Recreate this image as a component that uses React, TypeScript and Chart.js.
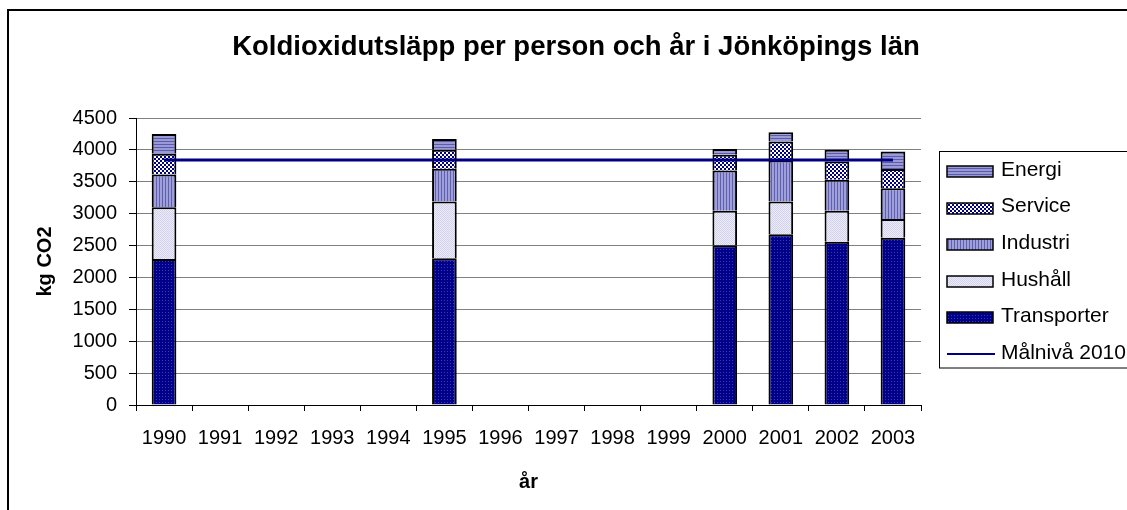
import React, { useEffect, useRef } from "react";
import { Chart, registerables } from "chart.js";

Chart.register(...registerables);

const TITLE = "Koldioxidutsläpp per person och år i Jönköpings län";
const categories = ["1990", "1991", "1992", "1993", "1994", "1995", "1996", "1997", "1998", "1999", "2000", "2001", "2002", "2003"];
const transporter = [2290, null, null, null, null, 2300, null, null, null, null, 2505, 2676, 2560, 2622];
const hushall = [812, null, null, null, null, 890, null, null, null, null, 540, 513, 487, 295];
const industri = [514, null, null, null, null, 515, null, null, null, null, 630, 645, 483, 483];
const service = [325, null, null, null, null, 299, null, null, null, null, 248, 299, 289, 299];
const energi = [310, null, null, null, null, 168, null, null, null, null, 90, 142, 184, 277];
const malniva = [3840, 3840, 3840, 3840, 3840, 3840, 3840, 3840, 3840, 3840, 3840, 3840, 3840, 3840];
const yTicksMax = 4500;
const yTicksStep = 500;

const FONT = '"Liberation Sans", Arial, sans-serif';

function makePattern(ctx: CanvasRenderingContext2D, w: number, h: number, draw: (g: CanvasRenderingContext2D) => void) {
  const c = document.createElement("canvas");
  c.width = w;
  c.height = h;
  const g = c.getContext("2d")!;
  draw(g);
  return ctx.createPattern(c, "repeat")!;
}

export default function App() {
  const ref = useRef<HTMLCanvasElement>(null);
  useEffect(() => {
    document.body.style.margin = "0";
    const canvas = ref.current!;
    const ctx = canvas.getContext("2d")!;

    const pTrans = makePattern(ctx, 3, 3, (g) => {
      g.fillStyle = "#00008a";
      g.fillRect(0, 0, 3, 3);
      g.fillStyle = "#3a3aa8";
      g.fillRect(0, 0, 1, 1);
    });
    const pHush = makePattern(ctx, 2, 2, (g) => {
      g.fillStyle = "#ececf8";
      g.fillRect(0, 0, 2, 2);
      g.fillStyle = "#d2d2ec";
      g.fillRect(0, 0, 1, 1);
      g.fillRect(1, 1, 1, 1);
    });
    const pInd = makePattern(ctx, 3, 3, (g) => {
      g.fillStyle = "#a0a0d8";
      g.fillRect(0, 0, 3, 3);
      g.fillStyle = "#5e5eb4";
      g.fillRect(0, 0, 1, 3);
    });
    const pServ = makePattern(ctx, 4, 4, (g) => {
      g.fillStyle = "#ffffff";
      g.fillRect(0, 0, 4, 4);
      g.fillStyle = "#000080";
      g.fillRect(0, 0, 2, 2);
      g.fillRect(2, 2, 2, 2);
    });
    const pEn = makePattern(ctx, 3, 3, (g) => {
      g.fillStyle = "#9a9ad4";
      g.fillRect(0, 0, 3, 3);
      g.fillStyle = "#5a5ab0";
      g.fillRect(0, 0, 3, 1);
    });

    const barCommon = {
      type: "bar" as const,
      stack: "bars",
      borderColor: "#000000",
      borderWidth: 2,
      borderSkipped: "start" as const,
      barPercentage: 0.44,
      categoryPercentage: 1,
      order: 1,
    };

    const legendOrder = [4, 3, 2, 1, 0, 5];

    const decor = {
      id: "decor",
      afterDraw(chart: any) {
        const c = chart.ctx as CanvasRenderingContext2D;
        c.save();
        // outer frame
        c.strokeStyle = "#000";
        c.lineWidth = 2;
        c.beginPath();
        c.moveTo(8, 530);
        c.lineTo(8, 10);
        c.lineTo(1140, 10);
        c.stroke();
        // title
        c.fillStyle = "#000";
        c.font = `bold 27.5px ${FONT}`;
        c.textAlign = "center";
        c.textBaseline = "middle";
        c.fillText(TITLE, 576, 47);
        // legend box
        c.lineWidth = 1;
        c.strokeStyle = "#000";
        c.strokeRect(939.5, 151.5, 300, 216.5);
        c.font = `21px ${FONT}`;
        c.textAlign = "left";
        const ds = chart.data.datasets;
        legendOrder.forEach((idx, i) => {
          const d = ds[idx];
          const cy = 170 + i * 36.6;
          if (d.type === "line") {
            c.strokeStyle = d.borderColor;
            c.lineWidth = 2;
            c.beginPath();
            c.moveTo(947, Math.round(cy) + 1);
            c.lineTo(995, Math.round(cy) + 1);
            c.stroke();
          } else {
            c.fillStyle = d.backgroundColor;
            const top = Math.round(cy) - 4;
            c.fillRect(947, top, 46, 11);
            c.strokeStyle = "#000";
            c.lineWidth = 1.5;
            c.strokeRect(947, top, 46, 11);
          }
          c.fillStyle = "#000";
          c.fillText(d.label, 1001, cy);
        });
        c.restore();
      },
    };

    const chart = new Chart(canvas, {
      type: "bar",
      data: {
        labels: categories,
        datasets: [
          { ...barCommon, label: "Transporter", data: transporter, backgroundColor: pTrans },
          { ...barCommon, label: "Hushåll", data: hushall, backgroundColor: pHush },
          { ...barCommon, label: "Industri", data: industri, backgroundColor: pInd },
          { ...barCommon, label: "Service", data: service, backgroundColor: pServ },
          { ...barCommon, label: "Energi", data: energi, backgroundColor: pEn },
          {
            type: "line",
            label: "Målnivå 2010",
            data: malniva,
            stack: "line",
            borderColor: "#000080",
            backgroundColor: "#000080",
            borderWidth: 3,
            pointRadius: 0,
            fill: false,
            order: 0,
          } as any,
        ],
      },
      options: {
        responsive: false,
        animation: false,
        layout: { padding: { left: 0, right: 206, top: 118, bottom: 0 } },
        plugins: {
          legend: { display: false },
          title: { display: false },
          tooltip: { enabled: false },
        },
        scales: {
          x: {
            stacked: true,
            grid: {
              display: true,
              drawOnChartArea: false,
              drawTicks: true,
              tickLength: 6,
              tickColor: "#000",
              offset: true,
            },
            border: { color: "#000", width: 1 },
            ticks: {
              color: "#000",
              font: { family: FONT, size: 20 },
              padding: 15,
              autoSkip: false,
              maxRotation: 0,
            },
            title: {
              display: true,
              text: "år",
              color: "#000",
              font: { family: FONT, size: 20, weight: "bold" },
              padding: { top: 0, bottom: 16 },
            },
            afterFit(s: any) {
              s.height = 105;
            },
          },
          y: {
            stacked: true,
            min: 0,
            max: yTicksMax,
            ticks: {
              stepSize: yTicksStep,
              color: "#000",
              font: { family: FONT, size: 20 },
              padding: 12,
              callback: (v: any) => String(v),
            },
            grid: { color: "#808080", tickColor: "#000", tickLength: 7, lineWidth: 1 },
            border: { color: "#000", width: 1 },
            title: {
              display: true,
              text: "kg CO2",
              color: "#000",
              font: { family: FONT, size: 20, weight: "bold" },
              padding: { top: 33, bottom: 0 },
            },
            afterFit(s: any) {
              s.width = 136;
            },
          },
        },
      },
      plugins: [decor],
    } as any);
    return () => chart.destroy();
  }, []);
  return (
    <div style={{ width: 1127, height: 510, position: "relative", overflow: "hidden" }}>
      <canvas ref={ref} width={1127} height={510} style={{ display: "block" }} />
    </div>
  );
}
